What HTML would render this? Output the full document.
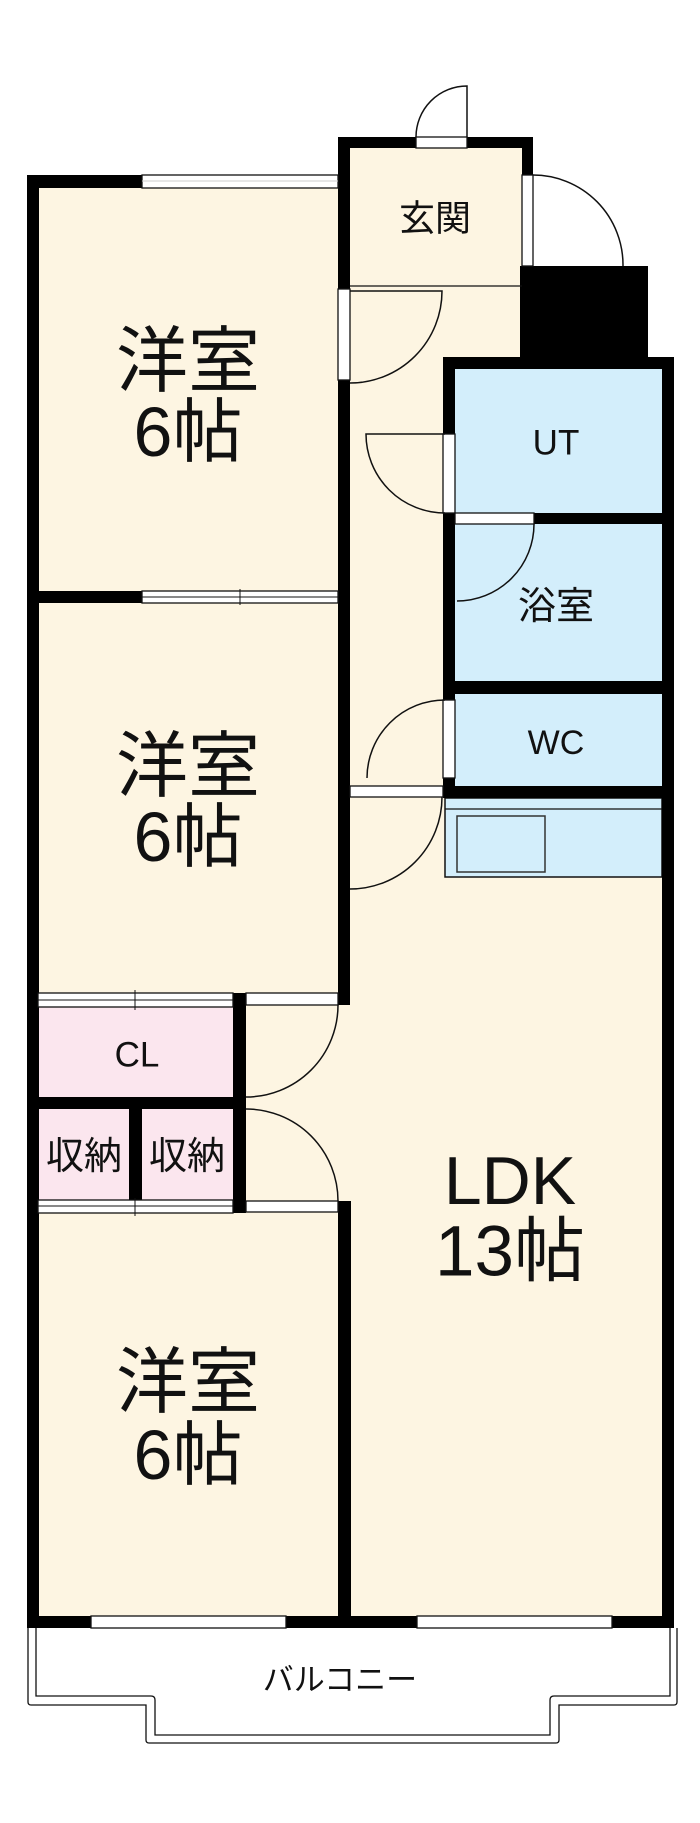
<!DOCTYPE html>
<html><head><meta charset="utf-8"><style>
html,body{margin:0;padding:0;background:#fff;}
svg{display:block;}
text{font-family:"Liberation Sans","Noto Sans CJK JP",sans-serif;fill:#111;text-anchor:middle;dominant-baseline:central;}
</style></head><body>
<svg width="700" height="1823" viewBox="0 0 700 1823" xmlns="http://www.w3.org/2000/svg">
<g fill="#fdf5e2">
<rect x="38" y="186" width="302" height="1432"/>
<rect x="340" y="146" width="184" height="660"/>
<rect x="340" y="790" width="330" height="830"/>
<rect x="240" y="1000" width="110" height="210"/>
</g>
<rect x="455" y="369" width="207" height="144" fill="#d3eefb"/>
<rect x="455" y="524" width="207" height="157" fill="#d3eefb"/>
<rect x="455" y="694" width="207" height="92" fill="#d3eefb"/>
<rect x="445" y="798" width="217" height="79" fill="#d3eefb" stroke="#111" stroke-width="1.5"/>
<line x1="445" y1="809" x2="662" y2="809" stroke="#111" stroke-width="1.2"/>
<rect x="457" y="816" width="88" height="56" fill="none" stroke="#333" stroke-width="1.5"/>
<rect x="38" y="1007" width="195" height="90" fill="#fbe6ee"/>
<rect x="38" y="1109" width="91" height="91" fill="#fbe6ee"/>
<rect x="142" y="1109" width="91" height="91" fill="#fbe6ee"/>

<g fill="#000">
<rect x="27" y="175" width="12" height="1453"/>
<rect x="27" y="175" width="115" height="13"/>
<rect x="27" y="591" width="115" height="12"/>
<rect x="338" y="137" width="12" height="152"/>
<rect x="338" y="380" width="12" height="625"/>
<rect x="338" y="137" width="78" height="11"/>
<rect x="467" y="137" width="66" height="11"/>
<rect x="522" y="137" width="11" height="38"/>
<rect x="520" y="266" width="128" height="95"/>
<rect x="443" y="357" width="231" height="12"/>
<rect x="443" y="357" width="12" height="77"/>
<rect x="443" y="513" width="12" height="187"/>
<rect x="443" y="778" width="12" height="20"/>
<rect x="662" y="357" width="12" height="1271"/>
<rect x="534" y="513" width="128" height="11"/>
<rect x="455" y="681" width="207" height="13"/>
<rect x="443" y="786" width="219" height="12"/>
<rect x="233" y="993" width="13" height="220"/>
<rect x="27" y="1097" width="219" height="12"/>
<rect x="129" y="1109" width="13" height="91"/>
<rect x="338" y="1201" width="13" height="427"/>
<rect x="27" y="1616" width="647" height="12"/>
</g>
<g fill="#fff" stroke="#111" stroke-width="1.3">
<rect x="142" y="175" width="196" height="13"/>
<rect x="142" y="591" width="196" height="12"/>
<rect x="38" y="993" width="195" height="14"/>
<rect x="38" y="1200" width="195" height="13"/>
<rect x="246" y="993" width="92" height="12"/>
<rect x="246" y="1201" width="92" height="11"/>
<rect x="91" y="1616" width="195" height="12"/>
<rect x="417" y="1616" width="195" height="12"/>
<rect x="416" y="137" width="51" height="11"/>
<rect x="522" y="175" width="11" height="91"/>
<rect x="338" y="289" width="12" height="91"/>
<rect x="443" y="434" width="12" height="79"/>
<rect x="455" y="513" width="79" height="11"/>
<rect x="443" y="700" width="12" height="78"/>
<rect x="350" y="786" width="93" height="11"/>
</g>
<g stroke="#111" stroke-width="1" fill="none">
<line x1="142" y1="597" x2="338" y2="597"/><line x1="240" y1="589" x2="240" y2="605"/>
<line x1="38" y1="1000" x2="233" y2="1000"/><line x1="135" y1="990" x2="135" y2="1010"/>
<line x1="38" y1="1206" x2="233" y2="1206"/><line x1="135" y1="1198" x2="135" y2="1216"/>
<line x1="142" y1="181" x2="338" y2="181" stroke="#ccc"/>
</g>
<g stroke="#111" stroke-width="1.5" fill="none">
<path d="M416 137 A51 51 0 0 1 467 86 L467 137"/>
<path d="M533 175 A90 90 0 0 1 623 266"/>
<path d="M350 291 L442 291 A92 92 0 0 1 350 383"/>
<path d="M445 434 L366 434 A79 79 0 0 0 445 513"/>
<path d="M534 524 A77 77 0 0 1 457 601"/>
<path d="M445 700 A78 78 0 0 0 367 778"/>
<path d="M442 797 A92 92 0 0 1 350 889"/>
<path d="M338 1005 A92 92 0 0 1 246 1097"/>
<path d="M246 1109 A92 92 0 0 1 338 1201"/>
<line x1="350" y1="286" x2="522" y2="286" stroke-width="1.2"/>
</g>
<g stroke="#111" stroke-width="1.3" fill="none">
<path d="M28 1628 L28 1702 Q28 1705 31 1705 L146 1705 L146 1740 Q146 1743 149 1743 L556 1743 Q559 1743 559 1740 L559 1705 L674 1705 Q677 1705 677 1702 L677 1628"/>
<path d="M36 1628 L36 1696 L151 1696 Q155 1696 155 1700 L155 1735 L550 1735 L550 1700 Q550 1696 554 1696 L670 1696 L670 1628"/>
</g>
<text x="435" y="218" font-size="36">玄関</text>
<text x="188" y="362" font-size="72">洋室</text>
<text x="188" y="432" font-size="70">6帖</text>
<text x="188" y="767" font-size="72">洋室</text>
<text x="188" y="837" font-size="70">6帖</text>
<text x="188" y="1383" font-size="72">洋室</text>
<text x="188" y="1455" font-size="70">6帖</text>
<text x="556" y="443" font-size="35">UT</text>
<text x="556" y="607" font-size="38">浴室</text>
<text x="556" y="743" font-size="34">WC</text>
<text x="137" y="1055" font-size="35">CL</text>
<text x="84" y="1157" font-size="38">収納</text>
<text x="187" y="1157" font-size="38">収納</text>
<text x="510" y="1181" font-size="68">LDK</text>
<text x="510" y="1252" font-size="71">13帖</text>
<text x="340" y="1680" font-size="31">バルコニー</text>
</svg>
</body></html>
